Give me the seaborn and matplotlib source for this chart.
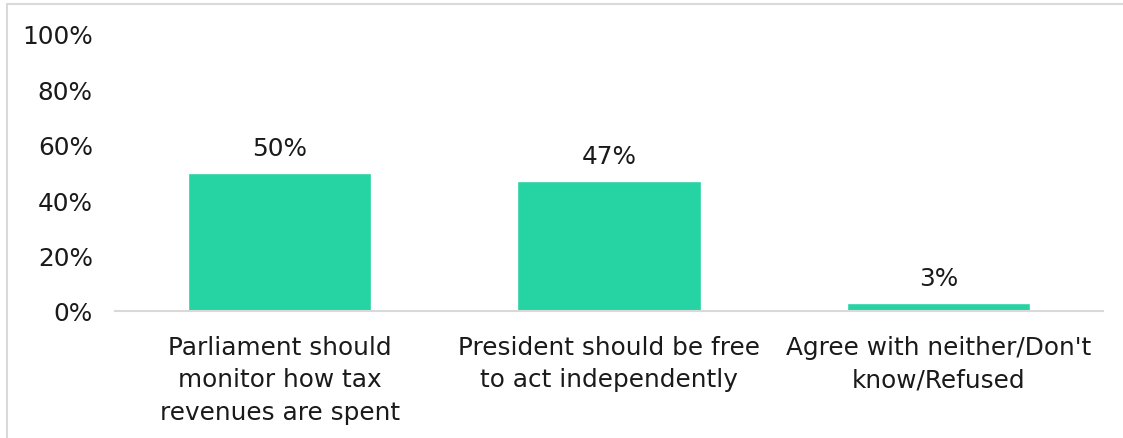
import matplotlib
matplotlib.use("Agg")
import matplotlib.pyplot as plt
from matplotlib.patches import Rectangle
import seaborn as sns
import pandas as pd

categories = [
    "Parliament should\nmonitor how tax\nrevenues are spent",
    "President should be free\nto act independently",
    "Agree with neither/Don't\nknow/Refused",
]
values = [50, 47, 3]
yticks = [0, 20, 40, 60, 80, 100]
ytick_labels = ["0%", "20%", "40%", "60%", "80%", "100%"]

sns.set_theme(style="white")
plt.rcParams["font.family"] = ["DejaVu Sans"]

W, H = 1123, 439
fig = plt.figure(figsize=(W / 100, H / 100), dpi=100)
ax = fig.add_axes([115 / W, 1 - 312 / H, (1103 - 115) / W, (312 - 35) / H])

df = pd.DataFrame({"category": categories, "value": values})
sns.barplot(data=df, x="category", y="value", color="#26D3A3",
            saturation=1, width=0.556, ax=ax)

ax.set_ylim(0, 100)
ax.set_yticks(yticks)
ax.set_yticklabels(ytick_labels)
ax.set_xlabel("")
ax.set_ylabel("")

for s in ["top", "right", "left"]:
    ax.spines[s].set_visible(False)
ax.spines["bottom"].set_color("#d9d9d9")
ax.spines["bottom"].set_linewidth(1.5)

fs = 17.8
ax.tick_params(axis="y", length=0, pad=16, labelsize=fs, labelcolor="#1a1a1a")
ax.tick_params(axis="x", length=0, pad=17, labelsize=fs, labelcolor="#1a1a1a")
for lbl in ax.get_xticklabels():
    lbl.set_linespacing(1.45)

for cont in ax.containers:
    ax.bar_label(cont, labels=[f"{v}%" for v in values], padding=9,
                 fontsize=fs, color="#1a1a1a")

# light frame around the chart area
fig.patches.append(Rectangle((7 / W, -0.1), 1.2, 1 - 5 / H + 0.1,
                             transform=fig.transFigure, fill=False,
                             edgecolor="#d9d9d9", linewidth=1.5, zorder=0))

fig.savefig("out.png", dpi=100, facecolor="white")
